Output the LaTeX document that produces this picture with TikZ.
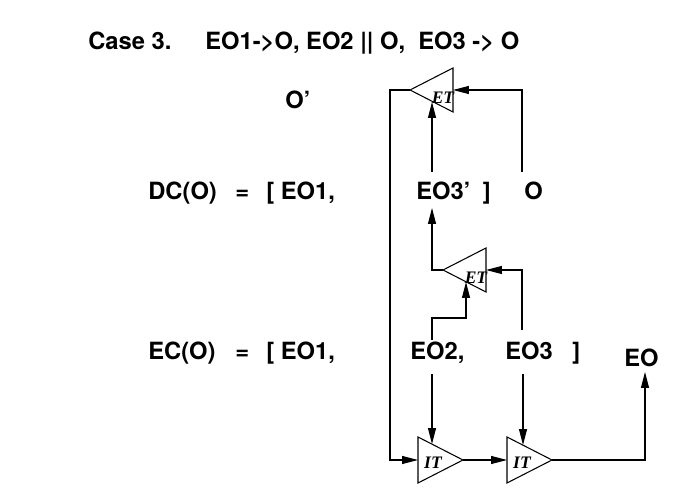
\documentclass[tikz,border=0pt]{standalone}
\usepackage{fontspec}
\setmainfont{TeX Gyre Heros}
\newfontfamily\tagfont{Liberation Serif}
\usetikzlibrary{arrows.meta}

\tikzset{
	lbl/.style={anchor=base west, inner sep=0pt, font=\fontsize{13.5}{16}\selectfont\bfseries},
	tag/.style={inner sep=0pt, font=\tagfont\fontsize{10}{11}\selectfont\bfseries\itshape},
	wire/.style={line width=0.6pt},
	arr/.style={wire, -{Triangle[length=9pt,width=4.5pt]}}
}

\begin{document}
\begin{tikzpicture}[x=0.02cm,y=-0.02cm]
\useasboundingbox (0,0) rectangle (700,492);

\node[lbl] (case) at (88,50) {Case 3.};
\node[lbl] (rel) at (205,50) {EO1->O, EO2 || O,\ \ EO3 -> O};

\node[lbl] (oprime) at (285,109) {O’};

\node[lbl] (dc) at (148,200) {DC(O)};
\node[lbl] (dceq) at (235,200) {=};
\node[lbl] (dceo1) at (266,200) {[ EO1,};
\node[lbl] (dceo3) at (416,200) {EO3’\hspace{0.25em} ]};
\node[lbl] (dco) at (524,200) {O};

\node[lbl] (ec) at (148,360) {EC(O)};
\node[lbl] (eceq) at (235,360) {=};
\node[lbl] (eceo1) at (266,360) {[ EO1,};
\node[lbl] (eceo2) at (410,360) {EO2,};
\node[lbl] (eceo3) at (505,360) {EO3};
\node[lbl] (ecbr) at (572,360) {]};
\node[lbl] (eo) at (624,367) {EO};

% ET triangles, pointing left
\foreach \n/\x/\y in {et1/410/90, et2/443/270} {
	\draw[wire] (\x,\y) -- ++(43,-22) -- ++(0,44) -- cycle;
	\node[tag] (\n) at (\x+33,\y+8) {ET};
	\coordinate (\n-tip) at (\x,\y);
	\coordinate (\n-in) at (\x+43,\y);
}
\coordinate (et1-bot) at (432,102);
\coordinate (et2-bot) at (466,282);

% IT triangles, pointing right
\foreach \n/\x in {it1/418, it2/507} {
	\draw[wire] (\x,437) -- (\x+45,460) -- (\x,483) -- cycle;
	\node[tag] (\n) at (\x+15,463) {IT};
	\coordinate (\n-in) at (\x,460);
	\coordinate (\n-tip) at (\x+45,460);
}
\coordinate (it1-top) at (432,444);
\coordinate (it2-top) at (523,445);

% line ends at the texts
\coordinate (dco-up) at (522,172);
\coordinate (dceo3-up) at (432,172);
\coordinate (dceo3-dn) at (432,208);
\coordinate (eceo3-up) at (522,330);
\coordinate (eceo2-up) at (432,340);
\coordinate (eceo2-dn) at (432,374);
\coordinate (eceo3-dn) at (523,374);
\coordinate (eo-dn) at (645,372);

\draw[arr] (et1-tip) -- ++(-20,0) |- (it1-in);
\draw[arr] (dceo3-up) -- (et1-bot);
\draw[arr] (dco-up) |- (et1-in);
\draw[arr] (et2-tip) -| (dceo3-dn);
\draw[arr] (eceo3-up) |- (et2-in);
\draw[arr] (eceo2-up) -- ++(0,-22) -| (et2-bot);
\draw[arr] (eceo2-dn) -- (it1-top);
\draw[arr] (eceo3-dn) -- (it2-top);
\draw[arr] (it1-tip) -- (it2-in);
\draw[arr] (it2-tip) -| (eo-dn);
\end{tikzpicture}
\end{document}
